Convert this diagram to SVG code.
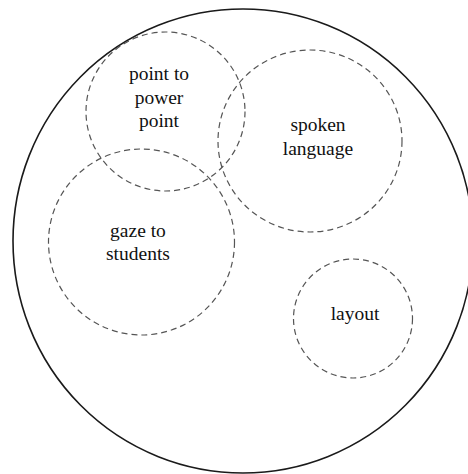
<svg xmlns="http://www.w3.org/2000/svg" width="468" height="474" viewBox="0 0 468 474">
<style>
.outer{fill:none;stroke:#1a1a1a;stroke-width:1.6}
.set{fill:none;stroke:#555;stroke-width:1.2;stroke-dasharray:6 4}
text{font-family:"Liberation Serif","Times New Roman",serif;font-size:19.5px;fill:#111;text-anchor:middle}
</style>
<rect width="468" height="474" fill="#fff"/>
<g id="universe"><ellipse class="outer" cx="243" cy="241" rx="230" ry="232"/></g>
<g id="point-to-power-point">
<circle class="set" cx="165.5" cy="111.5" r="79.5"/>
<text x="159" y="80">point to</text>
<text x="159" y="103.5">power</text>
<text x="159" y="127">point</text>
</g>
<g id="spoken-language">
<ellipse class="set" cx="310" cy="141" rx="92" ry="91"/>
<text x="318" y="130.5">spoken</text>
<text x="318" y="154.5">language</text>
</g>
<g id="gaze-to-students">
<circle class="set" cx="141.5" cy="242" r="93"/>
<text x="138" y="236.5">gaze to</text>
<text x="138" y="260">students</text>
</g>
<g id="layout">
<circle class="set" cx="353" cy="318.5" r="59.5"/>
<text x="355" y="320">layout</text>
</g>
<g id="connectors"></g>
</svg>
